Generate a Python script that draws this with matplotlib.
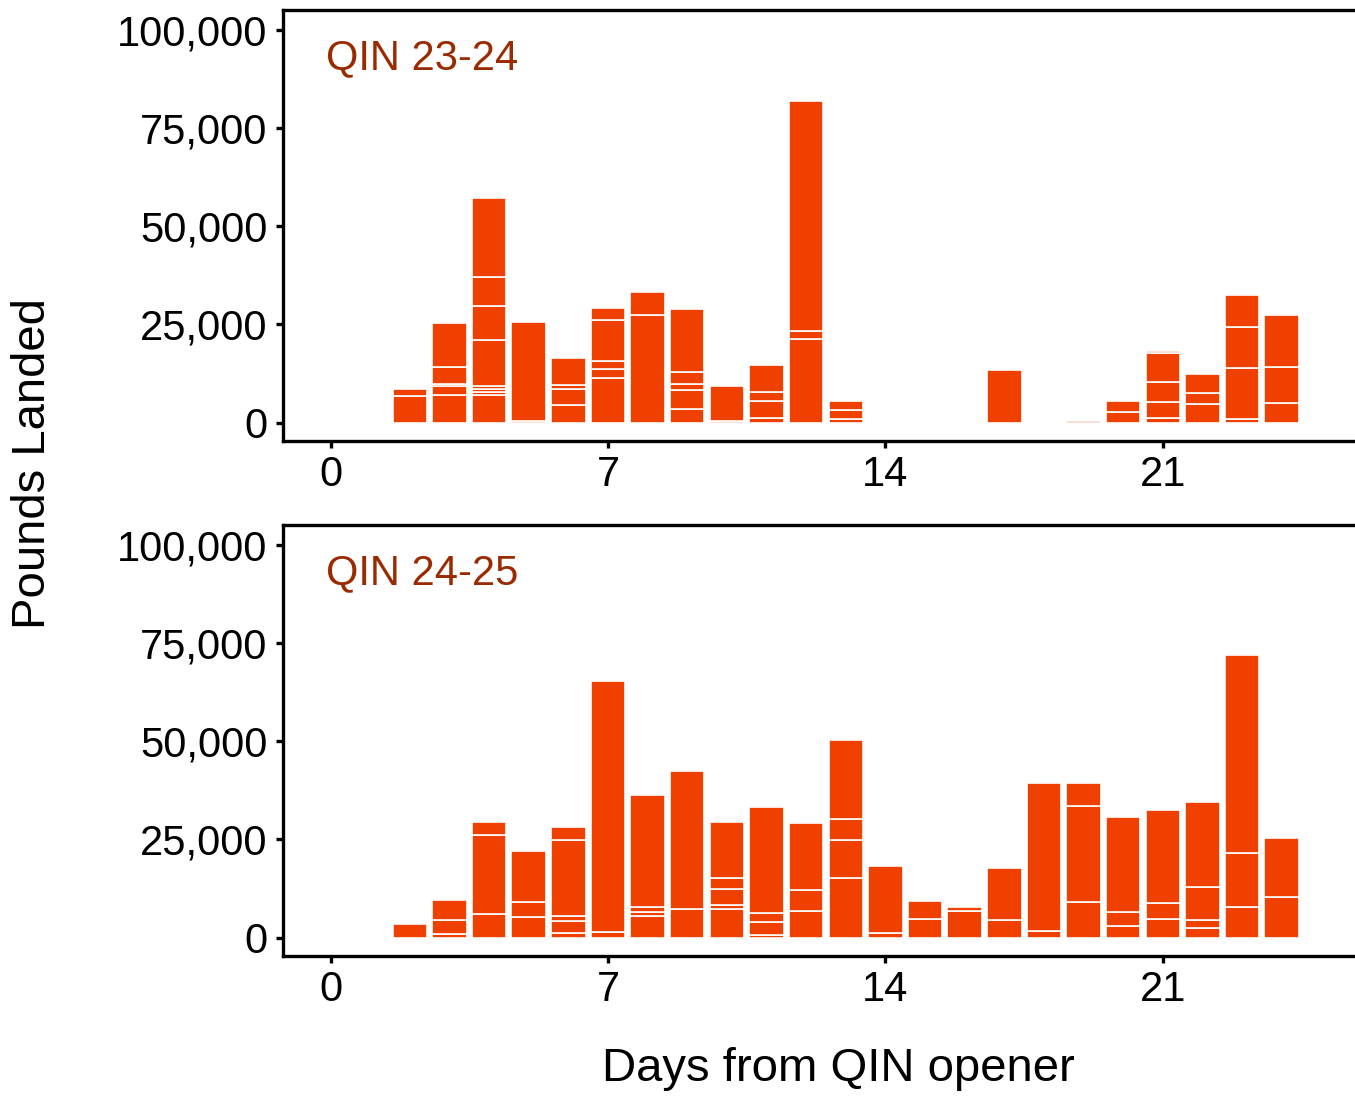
import matplotlib
matplotlib.use("Agg")
import matplotlib.pyplot as plt
from matplotlib.ticker import FuncFormatter
import numpy as np

plt.rcParams['font.family'] = ['Liberation Sans', 'DejaVu Sans']

# Season 23-24: days from opener and stacked landing segments (pounds)
days_2324 = [2, 3, 4, 5, 6, 7, 8, 9, 10, 11, 12, 13, 17, 19, 20, 21, 22, 23, 24]
segs_2324 = [
    [6900, 1700],
    [7000, 2200, 600, 4300, 11300],
    [7000, 800, 800, 600, 11700, 8900, 7200, 20200],
    [500, 25200],
    [4600, 4000, 1100, 6700],
    [11400, 2300, 2100, 10200, 3100],
    [27400, 5900],
    [3500, 4800, 1500, 3000, 16100],
    [500, 8700],
    [1200, 4400, 2300, 6800],
    [21200, 2200, 58400],
    [900, 2200, 2500],
    [13400],
    [300],
    [2800, 2600],
    [1100, 4200, 5000, 7300, 700],
    [4800, 2700, 4900],
    [900, 13000, 10500, 8200],
    [4900, 9300, 13200],
]

# Season 24-25
days_2425 = [2, 3, 4, 5, 6, 7, 8, 9, 10, 11, 12, 13, 14, 15, 16, 17, 18, 19, 20, 21, 22, 23, 24]
segs_2425 = [
    [3500],
    [800, 3800, 5000],
    [6000, 20200, 3100],
    [5200, 3800, 13100],
    [1200, 3100, 1300, 19300, 3200],
    [1400, 64000],
    [5400, 1000, 1300, 28600],
    [7300, 35200],
    [7300, 1000, 4200, 2600, 14200],
    [700, 3400, 2200, 27000],
    [6700, 5300, 17200],
    [15200, 9700, 5200, 20300],
    [1200, 16900],
    [4800, 4400],
    [6900, 1000],
    [4600, 13100],
    [1800, 37600],
    [9000, 24600, 5700],
    [2900, 3500, 24200],
    [4800, 3900, 23700],
    [2500, 2100, 8400, 21600],
    [7700, 13900, 50200],
    [10300, 15000],
]

panel_titles = ["QIN 23-24", "QIN 24-25"]
x_ticks = [0, 7, 14, 21]
y_ticks = [0, 25000, 50000, 75000, 100000]

BAR = "#F04000"
TITLE_COL = "#9A2A00"

W, H = 1355, 1097
fig = plt.figure(figsize=(W / 100, H / 100), dpi=100)

ax_top = fig.add_axes([283 / W, 1 - 440.7 / H, 1 - 283 / W, (440.7 - 10) / H])
ax_bot = fig.add_axes([283 / W, 1 - 955.7 / H, 1 - 283 / W, (955.7 - 525) / H])

fmt = FuncFormatter(lambda v, p: f"{int(v):,}")

for ax, days, segs, title in [(ax_top, days_2324, segs_2324, panel_titles[0]),
                              (ax_bot, days_2425, segs_2425, panel_titles[1])]:
    for d, s in zip(days, segs):
        bottom = 0
        for v in s:
            ax.bar(d, v, bottom=bottom, width=0.87, color=BAR,
                   edgecolor="white", linewidth=1.2)
            bottom += v
    ax.set_xlim(-1.2, 25.85)
    ax.set_ylim(-4600, 105000)
    ax.set_xticks(x_ticks)
    ax.set_yticks(y_ticks)
    ax.yaxis.set_major_formatter(fmt)
    ax.tick_params(axis="both", labelsize=30, length=5, width=2.4, color="black")
    ax.tick_params(axis="y", pad=6)
    ax.tick_params(axis="x", pad=5)
    for side in ["top", "left", "bottom"]:
        ax.spines[side].set_linewidth(2.4)
        ax.spines[side].set_color("black")
    ax.spines["right"].set_visible(False)
    ax.text(0.040, 0.889, title, transform=ax.transAxes, fontsize=30,
            color=TITLE_COL, ha="left", va="center")

fig.text(33 / W, 1 - 464 / H, "Pounds Landed", rotation=90, fontsize=34,
         ha="center", va="center")
fig.text(838 / W, 1 - 1069 / H, "Days from QIN opener", fontsize=34,
         ha="center", va="center")

fig.savefig("out.png", dpi=100)
